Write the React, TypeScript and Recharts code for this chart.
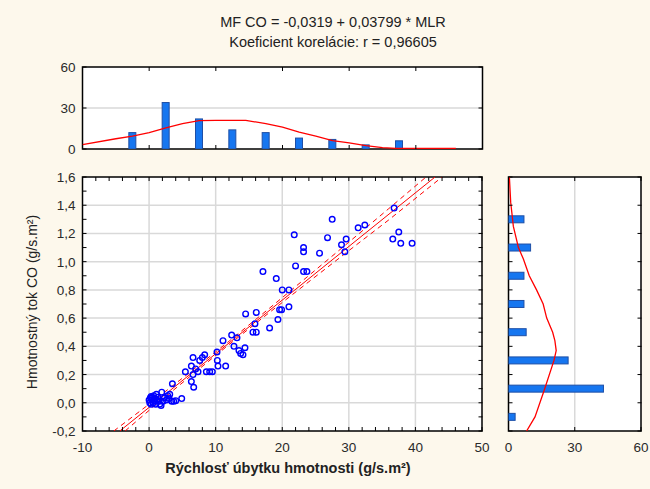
import React from "react";
import {
  ScatterChart,
  Scatter,
  ComposedChart,
  Bar,
  Line,
  XAxis,
  YAxis,
  CartesianGrid,
  ReferenceArea,
} from "recharts";

const BG = "#FDF8EC";
const FONT = "'Liberation Sans', Arial, sans-serif";
const BLUE = "#0000FF";
const RED = "#FF0000";
const BAR_FILL = "#1676F0";
const BAR_EDGE = "#1E4FA6";
const GRID = "#D9D9D9";

// scatter: MLR (x) vs MF CO (y)
const pointsX = [
  0.0, 0.1, 0.2, 0.3, 0.3, 0.4, 0.5, 0.6, 0.7, 0.8, 0.9, 1.0, 1.1, 1.2, 1.3, 1.5, 1.6, 1.8,
  1.9, 2.1, 2.3, 2.6, 2.8, 3.0, 3.1, 3.4, 3.5, 3.7, 4.0, 4.9,
  5.45, 6.35, 6.6, 6.6, 6.35, 6.7, 7.0, 7.35, 7.6, 8.0, 8.35, 8.6, 9.1, 9.5, 10.25, 10.35,
  10.2, 11.5, 11.1, 12.4, 13.2, 12.75, 13.5, 13.75, 14.1, 14.4, 14.5, 16.1, 15.9, 15.6, 16.1,
  18.1, 19.35, 19.6, 19.9, 21.0, 17.1, 19.1, 20.0, 21.0, 22.0, 21.8, 23.2, 23.2, 23.2, 23.7,
  25.6, 26.8, 27.5, 28.9, 29.6, 29.4, 31.4, 32.4, 36.8, 36.6, 37.5, 37.8, 39.5,
];
const pointsY = [
  0.02, 0.0, 0.035, -0.01, 0.045, 0.02, 0.04, 0.0, 0.05, 0.015, 0.03, -0.01, 0.06, 0.02, 0.04,
  0.01, -0.01, -0.02, 0.075, 0.01, 0.035, 0.02, 0.05, 0.03, 0.06, 0.01, 0.135, 0.01, 0.015, 0.03,
  0.22, 0.26, 0.32, 0.2, 0.15, 0.11, 0.24, 0.22, 0.3, 0.32, 0.34, 0.22, 0.22, 0.22, 0.3, 0.26,
  0.36, 0.26, 0.44, 0.48, 0.46, 0.4, 0.37, 0.35, 0.34, 0.39, 0.63, 0.64, 0.56, 0.5, 0.5,
  0.53, 0.59, 0.66, 0.66, 0.68, 0.93, 0.88, 0.8, 0.8, 0.97, 1.19, 1.1, 1.07, 0.93, 0.93,
  1.06, 1.17, 1.3, 1.12, 1.16, 1.07, 1.24, 1.26, 1.38, 1.16, 1.21, 1.13, 1.13,
];

// regression line and its 95% band
const fitX = [-4.4, 42.95];
const fitY = [-0.2, 1.6];
const bandUpX = [-5.3, 0, 6, 12, 18, 24, 30, 36, 41.6];
const bandUpY = [-0.2, -0.01, 0.211, 0.436, 0.667, 0.902, 1.138, 1.376, 1.6];
const bandLoX = [-3.6, 0, 6, 12, 18, 24, 30, 36, 44];
const bandLoY = [-0.2, -0.054, 0.181, 0.412, 0.637, 0.858, 1.078, 1.296, 1.6];

// top histogram (MLR)
const xBins = [-2.5, 2.5, 7.5, 12.5, 17.5, 22.5, 27.5, 32.5, 37.5];
const xBinCounts = [12, 34, 22, 14, 12, 8, 7, 3, 6];
const xCurveX = [-10, -5, -2.5, 0, 2.5, 5, 7.5, 10, 14.5, 17.5, 20, 22.5, 25, 27.5, 30, 32.5, 35, 37, 46];
const xCurveN = [3.2, 7.5, 9.5, 12, 15.4, 18.5, 20.7, 21, 21, 18.5, 16, 12.3, 9.5, 6.2, 4.5, 2.4, 1, 0.5, 0.5];

// right histogram (MF CO)
const yBins = [-0.1, 0.1, 0.3, 0.5, 0.7, 0.9, 1.1, 1.3];
const yBinCounts = [3, 43, 27, 8, 7, 7, 10, 7];
const yCurveY = [-0.2, -0.1, 0.1, 0.3, 0.37, 0.44, 0.5, 0.6, 0.7, 0.8, 0.9, 1.02, 1.1, 1.25, 1.42, 1.6];
const yCurveN = [8.2, 12, 16.4, 20.6, 21.6, 21, 20, 17.3, 15.7, 12.7, 9.4, 6.7, 4.5, 2.2, 1.0, 0.4];

// axes
const mainXTicks = [-10, -8, -6, -4, -2, 0, 2, 4, 6, 8, 10, 12, 14, 16, 18, 20, 22, 24, 26, 28, 30, 32, 34, 36, 38, 40, 42, 44, 46, 48, 50];
const mainXLabels = [-10, 0, 10, 20, 30, 40, 50];
const mainYTicks = [-0.2, -0.1, 0, 0.1, 0.2, 0.3, 0.4, 0.5, 0.6, 0.7, 0.8, 0.9, 1.0, 1.1, 1.2, 1.3, 1.4, 1.5, 1.6];
const mainYLabels = [-0.2, 0, 0.2, 0.4, 0.6, 0.8, 1.0, 1.2, 1.4, 1.6];
const histXTicks = [-10, 0, 10, 20, 30, 40, 50];
const countTicks = [0, 30, 60];
const histYTicks = [-0.2, 0, 0.2, 0.4, 0.6, 0.8, 1.0, 1.2, 1.4, 1.6];

const scatterData = pointsX.map((x, i) => ({ x, y: pointsY[i] }));
const fitData = fitX.map((x, i) => ({ x, y: fitY[i] }));
const bandUp = bandUpX.map((x, i) => ({ x, y: bandUpY[i] }));
const bandLo = bandLoX.map((x, i) => ({ x, y: bandLoY[i] }));
const topBars = xBins.map((x, i) => ({ x, count: xBinCounts[i] }));
const topCurve = xCurveX.map((x, i) => ({ x, n: xCurveN[i] }));
const sideBars = yBins.map((y, i) => ({ y, count: yBinCounts[i] }));
const sideCurve = yCurveY.map((y, i) => ({ y, n: yCurveN[i] }));

const comma = (v: number, d: number) => v.toFixed(d).replace(".", ",");
const near = (list: number[], v: number) => list.some((l) => Math.abs(l - v) < 1e-6);

const TICK_FONT = 13.5;
const TICK_LEN = 4;

// x ticks: inward marks on bottom and top edge (span = plot height), label below
function xTick(span: number, label?: (v: number) => string | null) {
  return (props: any) => {
    const { x, y, payload } = props;
    const text = label ? label(payload.value) : null;
    return (
      <g>
        <line x1={x} y1={y} x2={x} y2={y - TICK_LEN} stroke="#000" />
        <line x1={x} y1={y - span} x2={x} y2={y - span + TICK_LEN} stroke="#000" />
        {text != null && (
          <text x={x} y={y + 21} textAnchor="middle" fontSize={TICK_FONT} fontFamily={FONT} fill="#2a2a2a">
            {text}
          </text>
        )}
      </g>
    );
  };
}

// y ticks: inward marks on left and right edge (span = plot width), label left
function yTick(span: number, label?: (v: number) => string | null) {
  return (props: any) => {
    const { x, y, payload } = props;
    const text = label ? label(payload.value) : null;
    return (
      <g>
        <line x1={x} y1={y} x2={x + TICK_LEN} y2={y} stroke="#000" />
        <line x1={x + span} y1={y} x2={x + span - TICK_LEN} y2={y} stroke="#000" />
        {text != null && (
          <text x={x - 7} y={y + 5} textAnchor="end" fontSize={TICK_FONT} fontFamily={FONT} fill="#2a2a2a">
            {text}
          </text>
        )}
      </g>
    );
  };
}

// recharts skips axes that are 0px, so they are 1px and the margins allow for it
const edge = { tickSize: 0, tickMargin: 0, interval: 0 as const, axisLine: false, tickLine: false, allowDataOverflow: true };
const frame = { fill: "none", fillOpacity: 0, stroke: "#000", strokeWidth: 1.5, ifOverflow: "visible" as const };

const emptyShape = () => <g />;
const ringShape = (p: any) => (
  <circle cx={p.cx} cy={p.cy} r={2.8} fill="none" stroke={BLUE} strokeWidth={1.4} />
);
const colShape = (p: any) => (
  <rect x={p.x + p.width / 2 - 3.5} y={p.y} width={7} height={p.height} fill={BAR_FILL} stroke={BAR_EDGE} strokeWidth={1} />
);
const rowShape = (p: any) => (
  <rect x={p.x} y={p.y + p.height / 2 - 3.5} width={p.width} height={7} fill={BAR_FILL} stroke={BAR_EDGE} strokeWidth={1} />
);

function MainPlot() {
  const dom: [number, number] = [-10, 50];
  const ydom: [number, number] = [-0.2, 1.6];
  return (
    <ScatterChart width={650} height={489} margin={{ top: 177, right: 168, bottom: 57, left: 81.5 }}>
      <CartesianGrid
        fill="#FFFFFF"
        stroke={GRID}
        strokeWidth={1.5}
        verticalValues={[0, 10, 20, 30, 40]}
        horizontalValues={[0, 0.2, 0.4, 0.6, 0.8, 1.0, 1.2, 1.4]}
      />
      <XAxis
        type="number"
        dataKey="x"
        domain={dom}
        ticks={mainXTicks}
        height={1}
        {...edge}
        tick={xTick(254, (v) => (near(mainXLabels, v) ? String(v) : null))}
      />
      <YAxis
        type="number"
        dataKey="y"
        domain={ydom}
        ticks={mainYTicks}
        width={1}
        {...edge}
        tick={yTick(400, (v) => (near(mainYLabels, v) ? comma(v, 1) : null))}
      />
      <Scatter data={bandUp} shape={emptyShape} line={{ stroke: RED, strokeWidth: 1, strokeDasharray: "5 4" }} isAnimationActive={false} />
      <Scatter data={bandLo} shape={emptyShape} line={{ stroke: RED, strokeWidth: 1, strokeDasharray: "5 4" }} isAnimationActive={false} />
      <Scatter data={fitData} shape={emptyShape} line={{ stroke: RED, strokeWidth: 1 }} isAnimationActive={false} />
      <Scatter data={scatterData} shape={ringShape} isAnimationActive={false} />
      <ReferenceArea x1={dom[0]} x2={dom[1]} y1={ydom[0]} y2={ydom[1]} {...frame} />
    </ScatterChart>
  );
}

function TopHistogram() {
  const dom: [number, number] = [-10, 50];
  const ndom: [number, number] = [0, 60];
  return (
    <ComposedChart width={650} height={489} data={topBars} margin={{ top: 67, right: 167.5, bottom: 339, left: 81.5 }}>
      <CartesianGrid fill="#FFFFFF" stroke={GRID} strokeWidth={1.5} vertical={false} horizontalValues={[30]} />
      <XAxis type="number" dataKey="x" domain={dom} ticks={histXTicks} height={1} {...edge} tick={xTick(82)} />
      <YAxis type="number" domain={ndom} ticks={countTicks} width={1} {...edge} tick={yTick(400, (v) => String(v))} />
      <Bar dataKey="count" barSize={7} shape={colShape} isAnimationActive={false} />
      <Line data={topCurve} dataKey="n" type="linear" stroke={RED} strokeWidth={1.3} dot={false} isAnimationActive={false} />
      <ReferenceArea x1={dom[0]} x2={dom[1]} y1={ndom[0]} y2={ndom[1]} {...frame} />
    </ComposedChart>
  );
}

function SideHistogram() {
  const ndom: [number, number] = [0, 60];
  const ydom: [number, number] = [-0.2, 1.6];
  return (
    <ComposedChart
      width={650}
      height={489}
      layout="vertical"
      data={sideBars}
      margin={{ top: 177, right: 9, bottom: 57, left: 507.5 }}
    >
      <CartesianGrid fill="#FFFFFF" stroke={GRID} strokeWidth={1.5} horizontal={false} verticalValues={[30]} />
      <XAxis type="number" domain={ndom} ticks={countTicks} height={1} {...edge} tick={xTick(254, (v) => String(v))} />
      <YAxis type="number" dataKey="y" reversed domain={ydom} ticks={histYTicks} width={1} {...edge} tick={yTick(133)} />
      <Bar dataKey="count" barSize={7} shape={rowShape} isAnimationActive={false} />
      <Line data={sideCurve} dataKey="n" type="linear" stroke={RED} strokeWidth={1.3} dot={false} isAnimationActive={false} />
      <ReferenceArea x1={ndom[0]} x2={ndom[1]} y1={ydom[0]} y2={ydom[1]} {...frame} />
    </ComposedChart>
  );
}

const layer: React.CSSProperties = { position: "absolute", left: 0, top: 0 };

export default function App() {
  return (
    <div style={{ position: "absolute", left: 0, top: 0, width: 650, height: 489, background: BG, fontFamily: FONT, color: "#222" }}>
      <div style={{ ...layer, left: 133, top: 14, width: 400, textAlign: "center", fontSize: 14.5, lineHeight: "17px" }}>
        MF CO = -0,0319 + 0,03799 * MLR
      </div>
      <div style={{ ...layer, left: 133, top: 34, width: 400, textAlign: "center", fontSize: 14.5, lineHeight: "17px" }}>
        Koeficient korelácie: r = 0,96605
      </div>
      <div style={layer}>
        <TopHistogram />
      </div>
      <div style={layer}>
        <SideHistogram />
      </div>
      <div style={layer}>
        <MainPlot />
      </div>
      <div style={{ ...layer, left: 88, top: 459, width: 400, textAlign: "center", fontSize: 14.5, fontWeight: "bold", lineHeight: "18px" }}>
        Rýchlosť úbytku hmotnosti (g/s.m²)
      </div>
      <div
        style={{
          ...layer,
          left: 32 - 130,
          top: 302 - 9,
          width: 260,
          textAlign: "center",
          fontSize: 14,
          lineHeight: "18px",
          transform: "rotate(-90deg)",
        }}
      >
        Hmotnostný tok CO (g/s.m²)
      </div>
    </div>
  );
}
